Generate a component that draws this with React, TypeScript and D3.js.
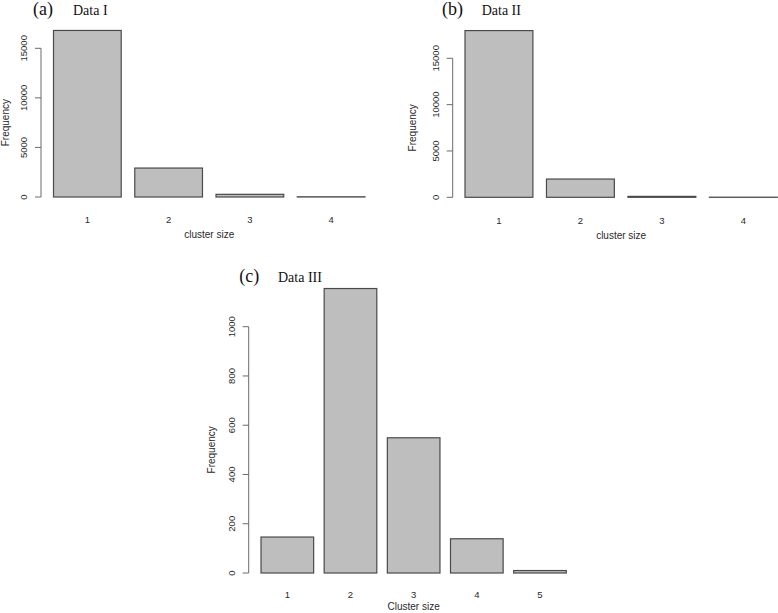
import React from "react";
import * as d3 from "d3";

// ---- data ----
const categoriesA = ["1", "2", "3", "4"];
const valuesA = [16800, 2920, 270, 20];
const ticksA = [0, 5000, 10000, 15000];

const categoriesB = ["1", "2", "3", "4"];
const valuesB = [17990, 1970, 100, 10];
const ticksB = [0, 5000, 10000, 15000];

const categoriesC = ["1", "2", "3", "4", "5"];
const valuesC = [146, 1155, 549, 139, 10];
const ticksC = [0, 200, 400, 600, 800, 1000];

type PanelProps = {
  cats: string[];
  vals: number[];
  ticks: number[];
  tag: string;
  title: string;
  xLabel: string;
  xRange: [number, number];
  yZero: number;
  yTopTick: number;
  axisX: number;
  tickLabelX: number;
  yLabelX: number;
  tickLabelY: number;
  xLabelY: number;
  tagX: number;
  titleX: number;
  titleY: number;
};

const SANS = "'Liberation Sans', Arial, sans-serif";

function Panel(p: PanelProps) {
  const x = d3
    .scaleBand<string>()
    .domain(p.cats)
    .range(p.xRange)
    .paddingInner(1 / 6)
    .paddingOuter(0);
  const maxTick = p.ticks[p.ticks.length - 1];
  const y = d3.scaleLinear().domain([0, maxTick]).range([p.yZero, p.yTopTick]);
  const yMid = (y(0) + y(maxTick)) / 2;
  const xMid = (p.xRange[0] + p.xRange[1]) / 2;
  return (
    <g>
      <text x={p.tagX} y={p.titleY} fontFamily="'Liberation Serif', serif" fontSize={18} fill="#111">
        {p.tag}
      </text>
      <text x={p.titleX} y={p.titleY} fontFamily="'Liberation Serif', serif" fontSize={14} fill="#111">
        {p.title}
      </text>
      {p.vals.map((v, i) => (
        <rect
          key={i}
          x={x(p.cats[i])!}
          width={x.bandwidth()}
          y={y(v)}
          height={Math.max(0, y(0) - y(v))}
          fill="#bebebe"
          stroke="#4a4a4a"
          strokeWidth={1.2}
        />
      ))}
      <line x1={p.axisX} x2={p.axisX} y1={y(0)} y2={y(maxTick)} stroke="#6a6a6a" strokeWidth={1} />
      {p.ticks.map((t) => (
        <g key={t}>
          <line x1={p.axisX - 6} x2={p.axisX} y1={y(t)} y2={y(t)} stroke="#6a6a6a" strokeWidth={1} />
          <text
            transform={`translate(${p.tickLabelX},${y(t)}) rotate(-90)`}
            textAnchor="middle"
            dominantBaseline="central"
            fontFamily={SANS}
            fontSize={9.5}
            fill="#2a2a2a"
          >
            {t}
          </text>
        </g>
      ))}
      {p.cats.map((c) => (
        <text
          key={c}
          x={x(c)! + x.bandwidth() / 2}
          y={p.tickLabelY}
          textAnchor="middle"
          dominantBaseline="central"
          fontFamily={SANS}
          fontSize={9.5}
          fill="#2a2a2a"
        >
          {c}
        </text>
      ))}
      <text
        x={xMid}
        y={p.xLabelY}
        textAnchor="middle"
        dominantBaseline="central"
        fontFamily={SANS}
        fontSize={10}
        fill="#2a2a2a"
      >
        {p.xLabel}
      </text>
      <text
        transform={`translate(${p.yLabelX},${yMid}) rotate(-90)`}
        textAnchor="middle"
        dominantBaseline="central"
        fontFamily={SANS}
        fontSize={10}
        fill="#2a2a2a"
      >
        Frequency
      </text>
    </g>
  );
}

export default function App() {
  return (
    <svg
      width={778}
      height={613}
      style={{ position: "absolute", left: 0, top: 0, background: "#fff" }}
    >
      <rect width={778} height={613} fill="#fff" />
      <Panel
        cats={categoriesA}
        vals={valuesA}
        ticks={ticksA}
        tag="(a)"
        title="Data I"
        xLabel="cluster size"
        xRange={[53.5, 365]}
        yZero={197}
        yTopTick={48.3}
        axisX={41}
        tickLabelX={23.5}
        yLabelX={5.5}
        tickLabelY={219.5}
        xLabelY={234.5}
        tagX={33}
        titleX={73}
        titleY={15}
      />
      <Panel
        cats={categoriesB}
        vals={valuesB}
        ticks={ticksB}
        tag="(b)"
        title="Data II"
        xLabel="cluster size"
        xRange={[465, 777.3]}
        yZero={197.3}
        yTopTick={58.3}
        axisX={452.7}
        tickLabelX={435}
        yLabelX={412}
        tickLabelY={220}
        xLabelY={235.5}
        tagX={442}
        titleX={481.7}
        titleY={15}
      />
      <Panel
        cats={categoriesC}
        vals={valuesC}
        ticks={ticksC}
        tag="(c)"
        title="Data III"
        xLabel="Cluster size"
        xRange={[261, 566.3]}
        yZero={573}
        yTopTick={326.7}
        axisX={248.7}
        tickLabelX={231.5}
        yLabelX={211}
        tickLabelY={594.3}
        xLabelY={606.5}
        tagX={239.3}
        titleX={278}
        titleY={281.5}
      />
    </svg>
  );
}
